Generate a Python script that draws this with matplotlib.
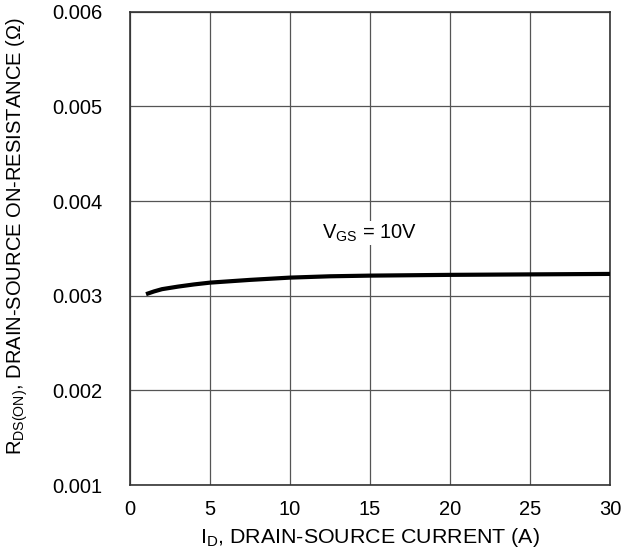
import matplotlib.pyplot as plt

plt.rcParams['font.family'] = ['Liberation Sans', 'DejaVu Sans']

# data
current = [1, 1.5, 2, 3, 4, 5, 7.5, 10, 12.5, 15, 20, 25, 30]
rds_on = [0.003016, 0.003045, 0.003069, 0.003096, 0.003119, 0.003138,
          0.003167, 0.003191, 0.003205, 0.003212, 0.003220, 0.003225, 0.003230]
x_ticks = [0, 5, 10, 15, 20, 25, 30]
y_ticks = [0.001, 0.002, 0.003, 0.004, 0.005, 0.006]

FS = 14.5

fig = plt.figure(figsize=(6.23, 5.54), dpi=100)
ax = fig.add_axes([0.2087, 0.1245, 0.7705, 0.8544])

ax.plot(current, rds_on, color='black', lw=3.0, solid_capstyle='butt', zorder=3)

ax.set_xlim(0, 30)
ax.set_ylim(0.001, 0.006)
ax.set_xticks(x_ticks)
ax.set_yticks(y_ticks)
ax.set_yticklabels([f'{v:.3f}' for v in y_ticks])
ax.tick_params(length=0, labelsize=FS)
ax.tick_params(axis='x', pad=11)
ax.tick_params(axis='y', pad=20)
ax.grid(True, color='#555555', lw=0.9)
for s in ax.spines.values():
    s.set_color('#333333')
    s.set_linewidth(1.2)

ax.text(12.0, 0.00366, r'V$_{\mathregular{GS}}$ = 10V', fontsize=FS,
        ha='left', va='center',
        bbox=dict(facecolor='white', edgecolor='none', pad=1))

ax.set_xlabel(r'I$_{\mathregular{D}}$, DRAIN-SOURCE CURRENT (A)', fontsize=15.4, labelpad=5)
ax.set_ylabel(r'R$_{\mathregular{DS(ON)}}$, DRAIN-SOURCE ON-RESISTANCE (Ω)', fontsize=FS,
              labelpad=16, y=0.525)

plt.savefig('out.png', dpi=100)
